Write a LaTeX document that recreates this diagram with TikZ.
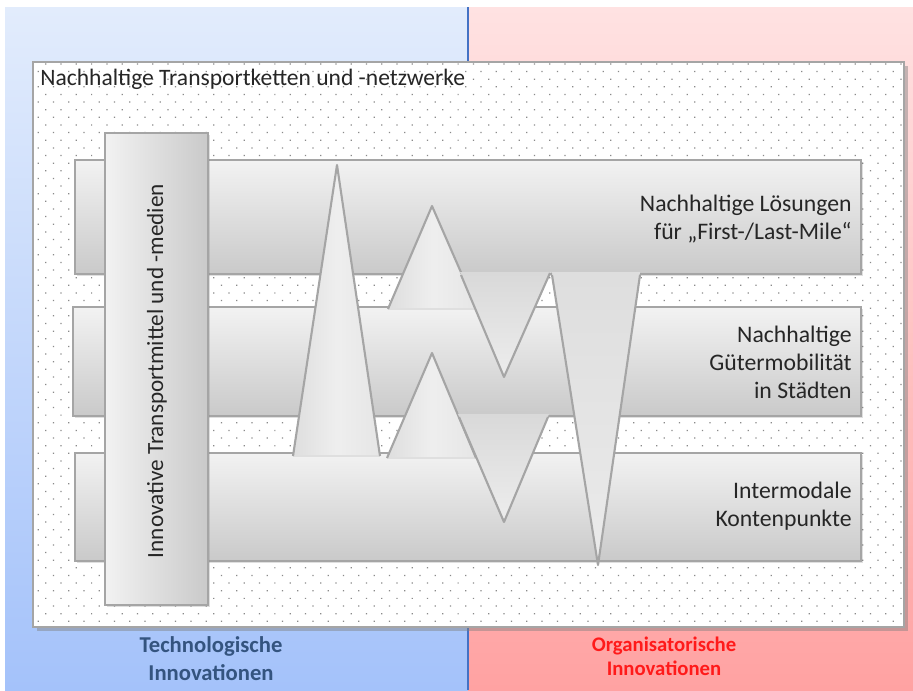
\documentclass[tikz,border=0pt]{standalone}
\usepackage{fontspec}
\setmainfont{Carlito}
\usetikzlibrary{patterns.meta,shadows,fit}
\definecolor{edgec}{HTML}{A5A5A5}
\definecolor{bltop}{HTML}{E2ECFC}
\definecolor{blbot}{HTML}{A4C2FA}
\definecolor{rdtop}{HTML}{FFE2E2}
\definecolor{rdbot}{HTML}{FFA2A2}
\definecolor{divc}{HTML}{4472C4}
\definecolor{techc}{HTML}{34547F}
\definecolor{orgc}{HTML}{FF1A1A}
\definecolor{txtc}{HTML}{262626}
\definecolor{dotc}{HTML}{8A8A8A}
\tikzset{
  mainbox/.style={draw=edgec, line width=1.6pt, fill=white, inner sep=0pt,
    drop shadow={shadow xshift=2pt, shadow yshift=-2pt, opacity=0.45},
    postaction={pattern={Dots[distance=0.216cm, angle=45, radius=0.5pt]}, pattern color=dotc}},
  hbar/.style={draw=edgec, line width=1.2pt, inner sep=0pt, top color=gray!10, bottom color=gray!42,
    drop shadow={shadow xshift=1pt, shadow yshift=-1pt, opacity=0.25}},
  vbarbox/.style={draw=edgec, line width=1.2pt, inner sep=0pt, left color=gray!10, right color=gray!42,
    drop shadow={shadow xshift=1pt, shadow yshift=-1pt, opacity=0.25}},
  trifill/.style={left color=gray!26, right color=gray!20, middle color=gray!13},
  vfill/.style={top color=gray!30, bottom color=gray!14},
  triedge/.style={draw=edgec, line width=1.2pt, line join=round},
  basedge/.style={draw=gray!25, line width=1pt},
  lbl/.style={font=\fontsize{13.5}{15.9}\selectfont, text=txtc, align=right, anchor=east, inner sep=0pt},
}
\begin{document}
\begin{tikzpicture}[x=0.02cm,y=-0.02cm]
\useasboundingbox (0,0) rectangle (913,690);
% background halves
\shade[top color=bltop, bottom color=blbot] (5,7) rectangle (468,690);
\shade[top color=rdtop, bottom color=rdbot] (468,7) rectangle (913,690);
\coordinate (dtop) at (468,7);
\coordinate (dbot) at (468,690);
\draw[divc, line width=0.9pt] (dtop) -- (dbot);
% main dotted box
\node[mainbox, fit={(33,62)(904,627)}] (main) {};
\node[anchor=west, inner sep=0pt, font=\fontsize{13.4}{14}\selectfont, text=txtc] (title) at (40,79) {Nachhaltige Transportketten und -netzwerke};
% horizontal bars
\node[hbar, fit={(75,160)(861,274)}] (b1) {};
\node[hbar, fit={(73,307)(861,416)}] (b2) {};
\node[hbar, fit={(75,453)(861,561)}] (b3) {};
% vertical bar
\node[vbarbox, fit={(105,133)(208,605)}] (vb) {};
\node[rotate=90, inner sep=0pt, font=\fontsize{13.2}{14}\selectfont, text=txtc] (vbl) at (157,371) {Innovative Transportmittel und -medien};
% tall triangle
\path[trifill] (293,456) -- (337,165) -- (380,456) -- cycle;
\draw[basedge] (293,456) -- (380,456);
\draw[triedge] (293,456) -- (337,165) -- (380,456);
% upper small triangle
\path[trifill] (388,309) -- (432,206) -- (477,309) -- cycle;
\draw[basedge] (388,309) -- (477,309);
\draw[triedge] (388,309) -- (432,206) -- (477,309);
% lower small triangle
\path[trifill] (387,458) -- (432,353) -- (476,458) -- cycle;
\draw[basedge] (387,458) -- (476,458);
\draw[triedge] (387,458) -- (432,353) -- (476,458);
% upper V
\path[vfill] (460,272) -- (504,377) -- (551,272) -- cycle;
\draw[triedge] (461,275) -- (504,377) -- (550,273);
% lower V
\path[vfill] (458,414) -- (504,522) -- (549,414) -- cycle;
\draw[triedge] (459,417) -- (504,522) -- (548,417);
% inverted tall triangle
\path[top color=gray!26, bottom color=gray!16] (552,272) -- (640,272) -- (598,565) -- cycle;
\draw[triedge] (552,275) -- (598,565) -- (640,275);
% bar labels
\node[lbl] (l1) at (852,219) {Nachhaltige Lösungen\\für „First-/Last-Mile“};
\node[lbl] (l2) at (852,362) {Nachhaltige\\Gütermobilität\\in Städten};
\node[lbl] (l3) at (852,506) {Intermodale\\Kontenpunkte};
% bottom labels
\node[align=center, text=techc, font=\bfseries\fontsize{12.9}{15.9}\selectfont] (tech) at (211,659) {Technologische\\Innovationen};
\node[align=center, text=orgc, font=\bfseries\fontsize{11.8}{13.6}\selectfont] (org) at (664,656) {Organisatorische\\Innovationen};
\end{tikzpicture}
\end{document}
